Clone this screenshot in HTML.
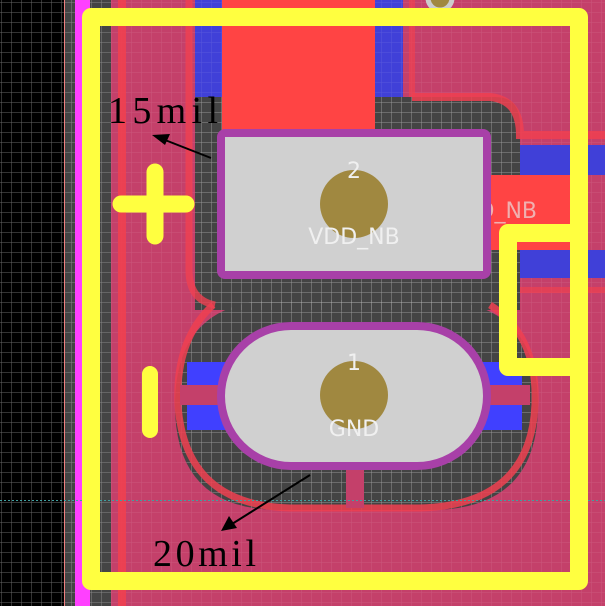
<!DOCTYPE html>
<html><head><style>html,body{margin:0;padding:0;background:#000}svg{display:block}</style></head>
<body>
<svg width="605" height="606" viewBox="0 0 605 606" xmlns="http://www.w3.org/2000/svg">
<defs>
<pattern id="g" width="10" height="10" patternUnits="userSpaceOnUse" x="2" y="3">
<path d="M10 0V10M0 10H10" stroke="#bbb" stroke-width="1" fill="none" opacity="0.55"/>
</pattern>
<pattern id="g2" width="10" height="10" patternUnits="userSpaceOnUse" x="2" y="3">
<path d="M10 0V10M0 10H10" stroke="#fff" stroke-width="1" fill="none" opacity="0.12"/>
</pattern>
</defs>
<rect width="605" height="606" fill="#000"/>
<rect x="65" width="46" height="606" fill="#444"/>
<rect width="111" height="606" fill="url(#g)"/>
<rect x="64" width="1" height="606" fill="#f08080"/>
<rect x="75" width="15" height="606" fill="#ff40ff"/>
<rect x="111" width="494" height="606" fill="#c4406a"/>
<rect x="195" y="0" width="30" height="97" fill="#4040d8"/>
<rect x="375" y="0" width="28" height="97" fill="#4040d8"/>
<path d="M195 97 H495 Q520 97 520 125 V310 H195 Z" fill="#444"/>
<path d="M280 300 H430 Q538 300 538 405 Q538 510 430 510 H280 Q175 510 175 405 Q175 300 280 300 Z" fill="#444"/>
<path d="M195 97 H495 Q520 97 520 125 V310 H195 Z" fill="url(#g)"/>
<path d="M280 300 H430 Q538 300 538 405 Q538 510 430 510 H280 Q175 510 175 405 Q175 300 280 300 Z" fill="url(#g)"/>
<rect x="111" width="494" height="606" fill="url(#g2)"/>
<path d="M122 0 V606" stroke="#f04050" stroke-width="8" fill="none" opacity="0.9"/>
<path d="M189 0 V270 Q189 300 215 305" stroke="#f04050" stroke-width="7" fill="none" opacity="0.8"/>
<path d="M213 305 Q175 340 178 405 Q185 505 290 508 H420 Q530 505 535 405 Q538 335 490 305" stroke="#f04050" stroke-width="7" fill="none" opacity="0.85"/>
<path d="M412 97 H490 Q520 100 520 135 H605" stroke="#f04050" stroke-width="8" fill="none" opacity="0.85"/>
<path d="M412 97 V0" stroke="#f04050" stroke-width="6" fill="none" opacity="0.7"/>
<path d="M520 290 H605" stroke="#f04050" stroke-width="6" fill="none" opacity="0.7"/>
<rect x="222" y="0" width="153" height="140" fill="#ff4444"/>
<rect x="520" y="145" width="85" height="30" fill="#4040d8"/>
<rect x="520" y="250" width="85" height="28" fill="#4040d8"/>
<rect x="483" y="175" width="87" height="75" fill="#ff4444"/>
<text x="537" y="218" font-family="DejaVu Sans, sans-serif" font-size="22" fill="#f0b0b0" text-anchor="end">VDD_NB</text>
<rect x="187" y="362" width="335" height="23" fill="#4040ff"/>
<rect x="187" y="405" width="335" height="25" fill="#4040ff"/>
<rect x="180" y="385" width="350" height="20" fill="#c4406a"/>
<rect x="346" y="460" width="18" height="48" fill="#c4406a"/>
<rect x="217" y="129" width="274" height="150" rx="8" fill="#a840a8"/>
<rect x="225" y="137" width="258" height="134" fill="#d0d0d0"/>
<circle cx="354" cy="204" r="34" fill="#a08840"/>
<text x="354" y="178" font-family="DejaVu Sans, sans-serif" font-size="22" fill="#f0f0f0" text-anchor="middle">2</text>
<text x="354" y="244" font-family="DejaVu Sans, sans-serif" font-size="22" fill="#f0f0f0" text-anchor="middle">VDD_NB</text>
<rect x="217" y="322" width="274" height="148" rx="74" fill="#a840a8"/>
<rect x="225" y="330" width="258" height="132" rx="66" fill="#d0d0d0"/>
<circle cx="354" cy="395" r="34" fill="#a08840"/>
<text x="354" y="370" font-family="DejaVu Sans, sans-serif" font-size="22" fill="#f0f0f0" text-anchor="middle">1</text>
<text x="354" y="436" font-family="DejaVu Sans, sans-serif" font-size="22" fill="#f0f0f0" text-anchor="middle">GND</text>
<path d="M0 500.5 H605" stroke="#40a0a0" stroke-width="1" stroke-dasharray="2 2"/>
<circle cx="440" cy="-2" r="12" fill="#a08840" stroke="#ccc" stroke-width="5"/>
<path d="M91 17 H579 V581 H91 Z" stroke="#ffff40" stroke-width="18" fill="none" stroke-linejoin="round"/>
<path d="M579 233 H508 V367 H579" stroke="#ffff40" stroke-width="18" fill="none" stroke-linejoin="round"/>
<path d="M121 204 H186 M155 172 V236" stroke="#ffff40" stroke-width="17" stroke-linecap="round"/>
<path d="M150 374 V430" stroke="#ffff40" stroke-width="16" stroke-linecap="round"/>
<text x="108" y="123" font-family="Liberation Serif, serif" font-size="38" fill="#000" textLength="110" lengthAdjust="spacing">15mil</text>
<path d="M211 158 L165 140" stroke="#000" stroke-width="2"/>
<path d="M152 135 L170 134 L165 145 Z" fill="#000"/>
<text x="153" y="566" font-family="Liberation Serif, serif" font-size="38" fill="#000" textLength="103" lengthAdjust="spacing">20mil</text>
<path d="M310 475 L232 524" stroke="#000" stroke-width="2"/>
<path d="M221 531 L229 516 L237 528 Z" fill="#000"/>
</svg>
</body></html>
